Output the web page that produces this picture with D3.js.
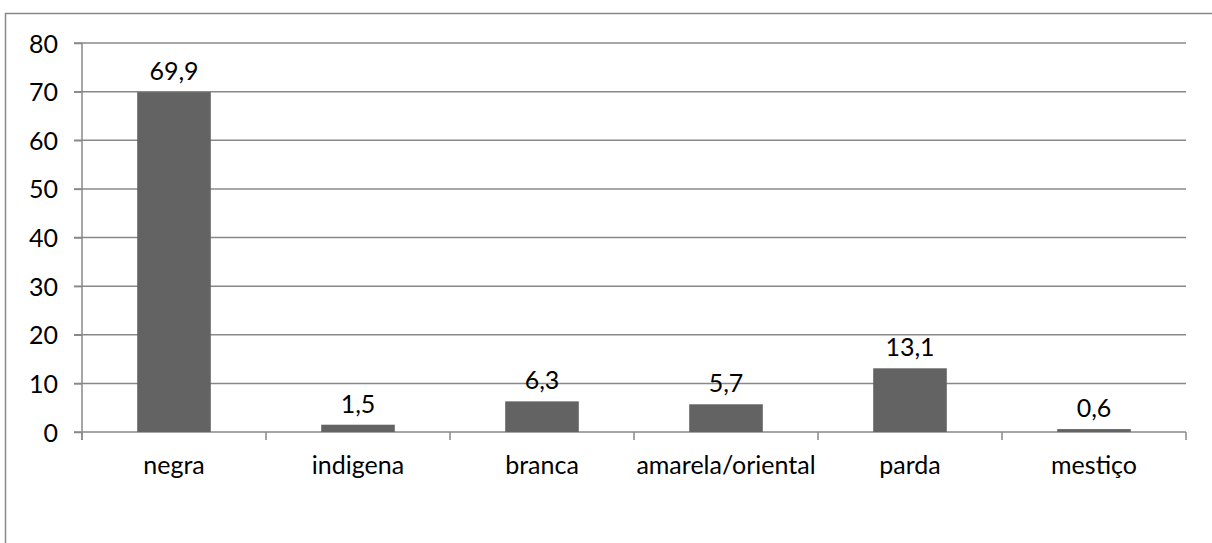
<!DOCTYPE html>
<html>
<head>
<meta charset="utf-8">
<script src="https://cdn.jsdelivr.net/npm/d3@7"></script>
<style>
  html, body { margin: 0; padding: 0; background: #fff; }
  svg { display: block; }
  text { font-family: Lato, "Open Sans", sans-serif; fill: #000; }
</style>
</head>
<body>
<svg id="chart" width="1212" height="543"></svg>
<script>
// Bar categories and their percentages
const categories = ["negra", "indigena", "branca", "amarela/oriental", "parda", "mestiço"];
const values = [69.9, 1.5, 6.3, 5.7, 13.1, 0.6];
const yTicks = [0, 10, 20, 30, 40, 50, 60, 70, 80];

const W = 1212, H = 543;
const margin = { left: 82, right: 26, top: 43, bottom: 111 };
const svg = d3.select("#chart");

const gridColor = "#888888";
const barColor = "#636363";
const fontSize = 25;

// Outer frame of the chart area
svg.append("rect")
  .attr("x", 5.5).attr("y", 13.5)
  .attr("width", W).attr("height", H)
  .attr("fill", "none")
  .attr("stroke", gridColor)
  .attr("stroke-width", 1.5);

const x = d3.scaleBand()
  .domain(categories)
  .range([margin.left, W - margin.right])
  .padding(0);

const y = d3.scaleLinear()
  .domain([0, 80])
  .range([H - margin.bottom, margin.top]);

// Horizontal gridlines
svg.append("g")
  .selectAll("line")
  .data(yTicks)
  .join("line")
  .attr("x1", margin.left - 8)
  .attr("x2", W - margin.right)
  .attr("y1", d => y(d))
  .attr("y2", d => y(d))
  .attr("stroke", gridColor)
  .attr("stroke-width", 1.5);

// Y axis: vertical line and tick labels
const yAxis = d3.axisLeft(y)
  .tickValues(yTicks)
  .tickSize(8)
  .tickPadding(16)
  .tickFormat(d3.format("d"));

const gy = svg.append("g")
  .attr("transform", `translate(${margin.left},0)`)
  .call(yAxis);
gy.select(".domain").remove();
gy.selectAll(".tick line").attr("stroke", gridColor).attr("stroke-width", 1.5);
gy.selectAll(".tick text")
  .attr("font-size", fontSize)
  .attr("font-family", "Lato, sans-serif")
  .attr("fill", "#000")
  .attr("dy", "0.36em");

svg.append("line")
  .attr("x1", margin.left).attr("x2", margin.left)
  .attr("y1", y(80)).attr("y2", y(0) + 8)
  .attr("stroke", gridColor).attr("stroke-width", 1.5);

// Category boundary ticks below the baseline
const bounds = categories.map(c => x(c)).concat([x(categories[categories.length - 1]) + x.bandwidth()]);
svg.append("g")
  .selectAll("line")
  .data(bounds)
  .join("line")
  .attr("x1", d => d).attr("x2", d => d)
  .attr("y1", y(0)).attr("y2", y(0) + 8)
  .attr("stroke", gridColor).attr("stroke-width", 1.5);

// Bars
const barW = x.bandwidth() * 0.4;
svg.append("g")
  .selectAll("rect")
  .data(values)
  .join("rect")
  .attr("x", (d, i) => x(categories[i]) + (x.bandwidth() - barW) / 2)
  .attr("y", d => y(d))
  .attr("width", barW)
  .attr("height", d => y(0) - y(d))
  .attr("fill", barColor);

// Value labels above each bar
const fmt = d => d.toFixed(1).replace(".", ",");
svg.append("g")
  .selectAll("text")
  .data(values)
  .join("text")
  .attr("x", (d, i) => x(categories[i]) + x.bandwidth() / 2)
  .attr("y", d => y(d) - 12)
  .attr("text-anchor", "middle")
  .attr("font-size", fontSize)
  .text(fmt);

// Category labels
svg.append("g")
  .selectAll("text")
  .data(categories)
  .join("text")
  .attr("x", d => x(d) + x.bandwidth() / 2)
  .attr("y", y(0) + 42)
  .attr("text-anchor", "middle")
  .attr("font-size", fontSize)
  .text(d => d);
</script>
</body>
</html>
